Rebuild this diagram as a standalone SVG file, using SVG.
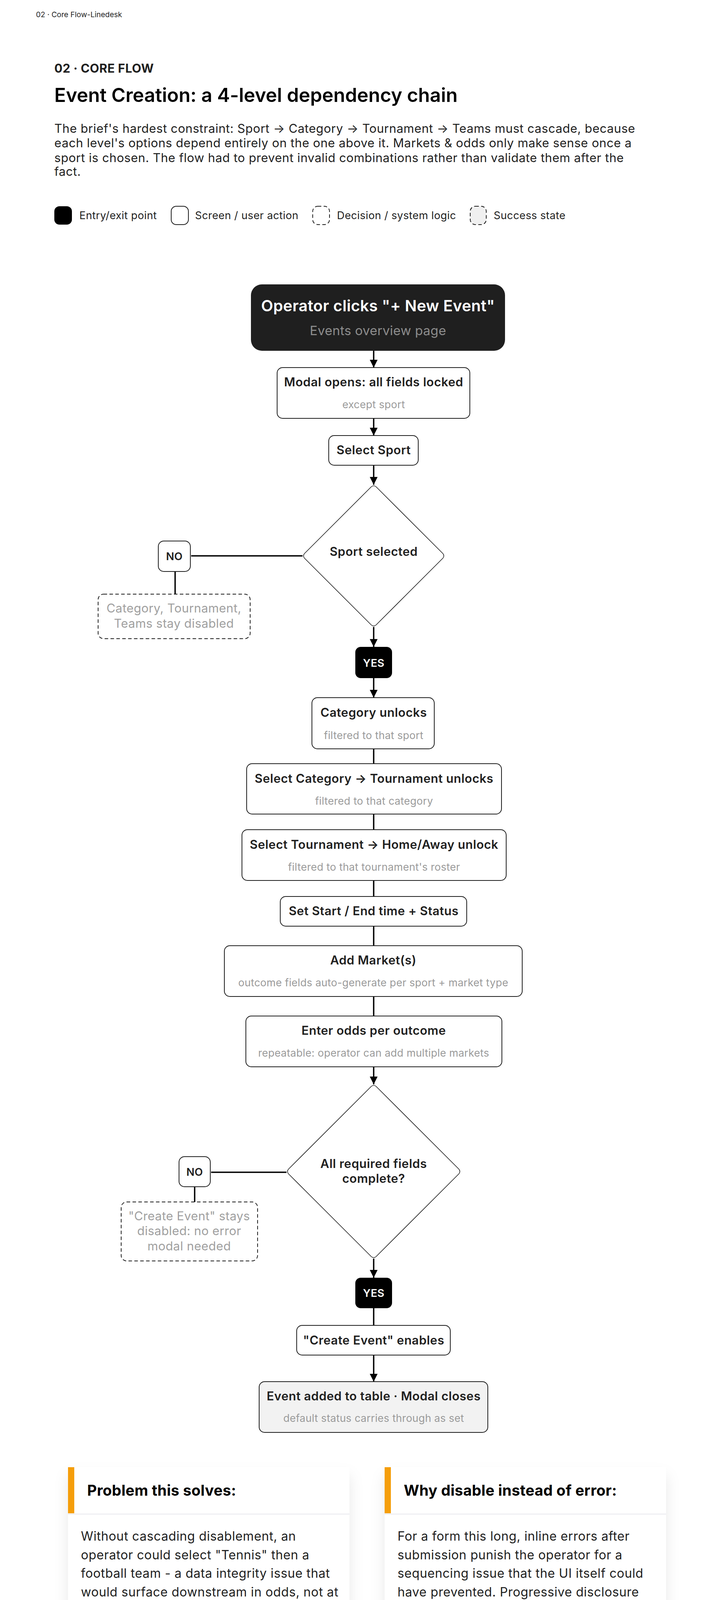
<svg xmlns="http://www.w3.org/2000/svg" width="1842" height="4396" viewBox="0 0 1842 4396">
<style>
text{font-family:Inter,"Liberation Sans",sans-serif;}
.t{font-size:31px;font-weight:600;fill:#1f1f1f;text-anchor:middle;letter-spacing:0.5px;}
.s{font-size:26.5px;fill:#9a9a9a;text-anchor:middle;letter-spacing:0.3px;}
.box{fill:#fff;stroke:#1f1f1f;stroke-width:2;}
.dash{fill:#fff;stroke:#1f1f1f;stroke-width:2;stroke-dasharray:9 6;}
.dia{fill:#fff;stroke:#1f1f1f;stroke-width:1.6;stroke-linejoin:round;}
.ln{stroke:#000;stroke-width:3.5;fill:none;}
.gray{font-size:31px;fill:#a0a0a0;text-anchor:middle;letter-spacing:0.4px;}
.leg{font-size:27px;fill:#1f1f1f;letter-spacing:0.4px;}
.ct{font-size:38px;font-weight:700;fill:#000;letter-spacing:0.3px;}
.cb{font-size:32px;fill:#1f1f1f;letter-spacing:0.6px;}
.yn{font-size:27.5px;font-weight:600;text-anchor:middle;letter-spacing:0.3px;}
</style>
<defs>
<marker id="ah" viewBox="0 0 20 20" refX="20" refY="10" markerWidth="20" markerHeight="20" markerUnits="userSpaceOnUse" orient="auto"><path d="M0,0 L20,10 L0,20 z" fill="#000"/></marker>
<filter id="sh" x="-20%" y="-20%" width="140%" height="150%"><feDropShadow dx="0" dy="22" stdDeviation="18" flood-color="#000" flood-opacity="0.09"/></filter>
</defs>
<rect width="1842" height="4396" fill="#fff"/>

<g id="header">
<text x="92" y="44" font-size="19" fill="#1f1f1f">02 · Core Flow-Linedesk</text>
<text x="139" y="186" font-size="31" font-weight="700" fill="#1f1f1f" letter-spacing="0.4">02 · CORE FLOW</text>
<text x="139" y="261" font-size="49" font-weight="600" fill="#000">Event Creation: a 4-level dependency chain</text>
<text font-size="31" fill="#1f1f1f" letter-spacing="0.55">
<tspan x="139" y="340">The brief's hardest constraint: Sport → Category → Tournament → Teams must cascade, because</tspan>
<tspan x="139" y="377">each level's options depend entirely on the one above it. Markets &amp; odds only make sense once a</tspan>
<tspan x="139" y="415">sport is chosen. The flow had to prevent invalid combinations rather than validate them after the</tspan>
<tspan x="139" y="450">fact.</tspan>
</text>
</g>

<g id="legend">
<rect x="139" y="528" width="45" height="47" rx="13" fill="#000"/>
<text class="leg" x="203" y="561">Entry/exit point</text>
<rect x="438" y="528" width="44" height="47" rx="13" class="box"/>
<text class="leg" x="499" y="561">Screen / user action</text>
<rect x="800" y="528" width="43" height="47" rx="13" class="dash"/>
<text class="leg" x="862" y="561">Decision / system logic</text>
<rect x="1203" y="528" width="41" height="47" rx="13" class="dash" style="fill:#f0f0f0"/>
<text class="leg" x="1263" y="561">Success state</text>
</g>

<g id="connectors">
<line class="ln" x1="956" y1="897" x2="956" y2="941" marker-end="url(#ah)"/>
<line class="ln" x1="956" y1="1071" x2="956" y2="1115" marker-end="url(#ah)"/>
<line class="ln" x1="956" y1="1191" x2="956" y2="1241" marker-end="url(#ah)"/>
<line class="ln" x1="956" y1="1605" x2="956" y2="1656" marker-end="url(#ah)"/>
<line class="ln" x1="956" y1="1736" x2="956" y2="1786" marker-end="url(#ah)"/>
<line class="ln" x1="956" y1="1917" x2="956" y2="1955"/>
<line class="ln" x1="956" y1="2084" x2="956" y2="2124"/>
<line class="ln" x1="956" y1="2254" x2="956" y2="2295"/>
<line class="ln" x1="956" y1="2371" x2="956" y2="2421"/>
<line class="ln" x1="956" y1="2551" x2="956" y2="2601"/>
<line class="ln" x1="956" y1="2731" x2="956" y2="2776" marker-end="url(#ah)"/>
<line class="ln" x1="956" y1="3222" x2="956" y2="3271" marker-end="url(#ah)"/>
<line class="ln" x1="956" y1="3349" x2="956" y2="3393"/>
<line class="ln" x1="956" y1="3469" x2="956" y2="3537" marker-end="url(#ah)"/>
<line class="ln" x1="489" y1="1423" x2="774" y2="1423"/>
<line class="ln" x1="448" y1="1463" x2="448" y2="1521"/>
<line class="ln" x1="540" y1="3001" x2="733" y2="3001"/>
<line class="ln" x1="498" y1="3038" x2="498" y2="3077"/>
</g>

<g id="n-entry">
<rect x="642" y="728" width="650" height="170" rx="28" fill="#1f1f1f"/>
<text x="967" y="797" font-size="40" font-weight="600" fill="#fff" text-anchor="middle" letter-spacing="0.3">Operator clicks "+ New Event"</text>
<text x="967" y="858" font-size="33" fill="#8c8c8c" text-anchor="middle" letter-spacing="0.3">Events overview page</text>
</g>
<g id="n-modal">
<rect x="709" y="941" width="493" height="130" rx="14" class="box"/>
<text class="t" x="956" y="989">Modal opens: all fields locked</text>
<text class="s" x="956" y="1045">except sport</text>
</g>
<g id="n-sport">
<rect x="841" y="1115" width="229" height="76" rx="14" class="box"/>
<text class="t" x="956" y="1163">Select Sport</text>
</g>
<g id="d-sport">
<path class="dia" d="M950,1246 Q956,1241 962,1246 L1133,1417 Q1138,1423 1133,1429 L962,1600 Q956,1605 950,1600 L779,1429 Q774,1423 779,1417 Z"/>
<text class="t" x="956" y="1423">Sport selected</text>
</g>
<g id="n-no1">
<rect x="405" y="1385" width="82" height="78" rx="14" class="box"/>
<text class="yn" x="446" y="1434" fill="#1f1f1f">NO</text>
</g>
<g id="n-disabled1">
<rect x="251" y="1521" width="389" height="114" rx="14" class="dash"/>
<text class="gray" x="445" y="1568">Category, Tournament,</text>
<text class="gray" x="445" y="1607">Teams stay disabled</text>
</g>
<g id="n-yes1">
<rect x="909" y="1656" width="94" height="80" rx="14" fill="#000"/>
<text class="yn" x="956" y="1707" fill="#fff">YES</text>
</g>
<g id="n-category">
<rect x="798" y="1786" width="313" height="131" rx="14" class="box"/>
<text class="t" x="956" y="1835">Category unlocks</text>
<text class="s" x="956" y="1892">filtered to that sport</text>
</g>
<g id="n-selcat">
<rect x="631" y="1955" width="652" height="129" rx="14" class="box"/>
<text class="t" x="957" y="2004">Select Category → Tournament unlocks</text>
<text class="s" x="957" y="2060">filtered to that category</text>
</g>
<g id="n-seltourn">
<rect x="619" y="2124" width="676" height="130" rx="14" class="box"/>
<text class="t" x="957" y="2173">Select Tournament → Home/Away unlock</text>
<text class="s" x="957" y="2229">filtered to that tournament's roster</text>
</g>
<g id="n-setstart">
<rect x="717" y="2295" width="477" height="76" rx="14" class="box"/>
<text class="t" x="956" y="2343">Set Start / End time + Status</text>
</g>
<g id="n-market">
<rect x="574" y="2421" width="762" height="130" rx="14" class="box"/>
<text class="t" x="955" y="2469">Add Market(s)</text>
<text class="s" x="955" y="2525">outcome fields auto-generate per sport + market type</text>
</g>
<g id="n-odds">
<rect x="629" y="2601" width="655" height="130" rx="14" class="box"/>
<text class="t" x="956" y="2649">Enter odds per outcome</text>
<text class="s" x="956" y="2705">repeatable: operator can add multiple markets</text>
</g>
<g id="d-complete">
<path class="dia" d="M950,2781 Q956,2776 962,2781 L1174,2993 Q1179,2999 1174,3005 L962,3217 Q956,3222 950,3217 L738,3005 Q733,2999 738,2993 Z"/>
<text class="t" x="956" y="2990">All required fields</text>
<text class="t" x="956" y="3028">complete?</text>
</g>
<g id="n-no2">
<rect x="458" y="2961" width="80" height="77" rx="14" class="box"/>
<text class="yn" x="498" y="3010" fill="#1f1f1f">NO</text>
</g>
<g id="n-disabled2">
<rect x="310" y="3077" width="349" height="151" rx="14" class="dash"/>
<text class="gray" x="484" y="3124">"Create Event" stays</text>
<text class="gray" x="484" y="3162">disabled: no error</text>
<text class="gray" x="484" y="3201">modal needed</text>
</g>
<g id="n-yes2">
<rect x="909" y="3271" width="94" height="78" rx="14" fill="#000"/>
<text class="yn" x="956" y="3320" fill="#fff">YES</text>
</g>
<g id="n-create">
<rect x="759" y="3393" width="393" height="76" rx="14" class="box"/>
<text class="t" x="956" y="3442">"Create Event" enables</text>
</g>
<g id="n-added">
<rect x="663" y="3537" width="585" height="130" rx="14" class="box" style="fill:#f2f2f2"/>
<text class="t" x="956" y="3585">Event added to table · Modal closes</text>
<text class="s" x="956" y="3640">default status carries through as set</text>
</g>

<g id="card-problem">
<rect x="174" y="3756" width="720" height="471" fill="#fff" filter="url(#sh)"/>
<rect x="174" y="3756" width="16" height="118" fill="#f59e0b"/>
<line x1="174" y1="3876" x2="894" y2="3876" stroke="#e8e8ee" stroke-width="2"/>
<text class="ct" x="223" y="3829">Problem this solves:</text>
<text class="cb">
<tspan x="207" y="3944">Without cascading disablement, an</tspan>
<tspan x="207" y="3992">operator could select "Tennis" then a</tspan>
<tspan x="207" y="4039">football team - a data integrity issue that</tspan>
<tspan x="207" y="4087">would surface downstream in odds, not at</tspan>
<tspan x="207" y="4134">entry. Locking each field until its parent is</tspan>
<tspan x="207" y="4183">chosen makes invalid states unreachable.</tspan>
</text>
</g>
<g id="card-why">
<rect x="984" y="3756" width="720" height="471" fill="#fff" filter="url(#sh)"/>
<rect x="984" y="3756" width="16" height="118" fill="#f59e0b"/>
<line x1="984" y1="3876" x2="1704" y2="3876" stroke="#e8e8ee" stroke-width="2"/>
<text class="ct" x="1033" y="3829">Why disable instead of error:</text>
<text class="cb">
<tspan x="1017" y="3944">For a form this long, inline errors after</tspan>
<tspan x="1017" y="3992">submission punish the operator for a</tspan>
<tspan x="1017" y="4039">sequencing issue that the UI itself could</tspan>
<tspan x="1017" y="4087">have prevented. Progressive disclosure</tspan>
<tspan x="1017" y="4134">removed the need for error states almost</tspan>
<tspan x="1017" y="4183">entirely.</tspan>
</text>
</g>
</svg>
